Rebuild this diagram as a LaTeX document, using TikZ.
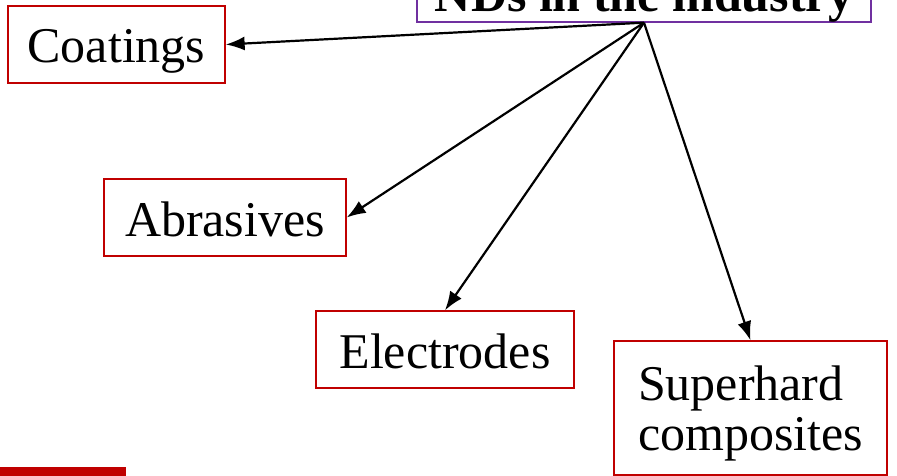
\documentclass[tikz,border=0pt]{standalone}
\usepackage{fontspec}
\setmainfont{Liberation Serif}
\usetikzlibrary{arrows.meta}

\definecolor{boxred}{HTML}{C00000}
\definecolor{boxpurple}{HTML}{7030A0}

\tikzset{
  usebox/.style={draw=boxred, line width=1.3pt, inner sep=0pt,
    minimum height=77pt, text height=37pt, text depth=0pt,
    font=\fontsize{50}{50}\selectfont},
  link/.style={line width=2.2pt, -{Latex[length=19pt,width=14pt]}}
}

\begin{document}
\begin{tikzpicture}[x=1pt, y=-1pt]
  \clip (0,0) rectangle (897,476);

  \node[draw=boxpurple, line width=1.3pt, inner xsep=0pt, inner ysep=0pt,
    minimum width=454pt, anchor=base, text height=60pt, text depth=10pt,
    font=\fontsize{50}{50}\selectfont\bfseries] (nds) at (644,12) {NDs in the industry};

  \node[usebox, minimum width=217pt] (coat) at (116.5,44.5) {Coatings};
  \node[usebox, minimum width=242pt] (abras) at (225,217.5) {Abrasives};
  \node[usebox, minimum width=258pt] (elec) at (445,349.5) {Electrodes};
  \node[draw=boxred, line width=1.3pt, inner sep=0pt, minimum width=273pt,
    minimum height=134pt, align=left, text depth=0pt,
    font=\fontsize{50}{50}\selectfont]
    (super) at (750.5,408) {Superhard\\composites};

  \draw[link] (nds.south) -- (coat.east);
  \draw[link] (nds.south) -- (abras.east);
  \draw[link] (nds.south) -- (elec.north);
  \draw[link] (nds.south) -- (super.north);

  \fill[boxred] (0,467) rectangle (126,476);
\end{tikzpicture}
\end{document}
